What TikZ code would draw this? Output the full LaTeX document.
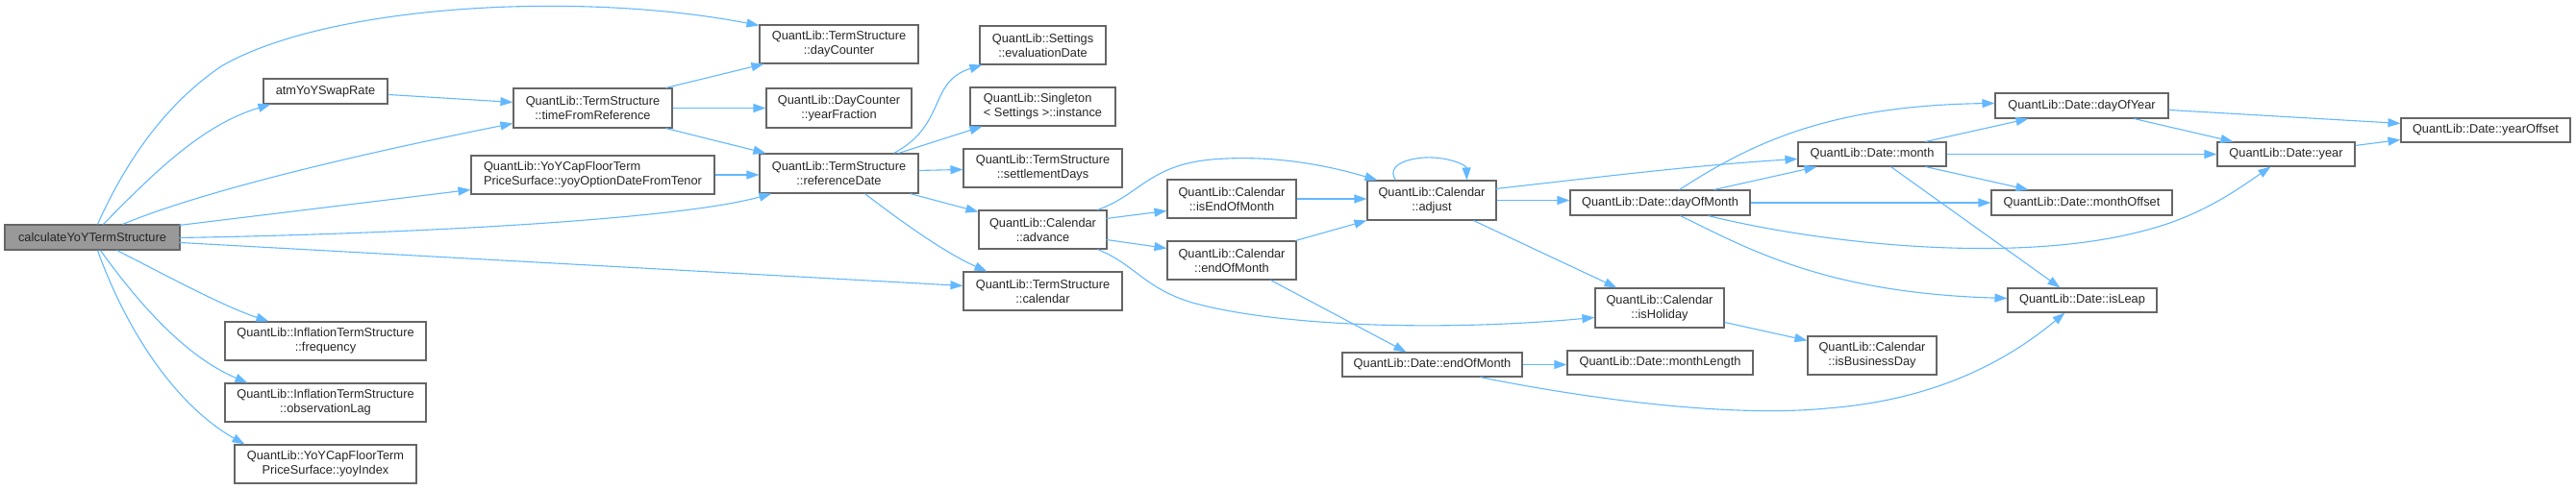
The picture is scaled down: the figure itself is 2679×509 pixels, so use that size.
\documentclass[tikz,border=0pt]{standalone}
\usepackage{fontspec}
\setmainfont{Liberation Sans}
\usetikzlibrary{arrows.meta,calc}
\definecolor{edgeblue}{HTML}{63B8FF}
\definecolor{boxgray}{HTML}{666666}
\definecolor{rootgray}{HTML}{999999}
\begin{document}
\begin{tikzpicture}[x=1pt,y=-1pt,
  box/.style={draw=boxgray, line width=1.1pt, fill=white, inner sep=0pt, align=center,
    font=\fontsize{12.8}{15}\selectfont, text=black!85},
  lbox/.style={box, align=left},
  e/.style={draw=edgeblue, line width=1.1pt, -{Triangle[length=13pt,width=9pt]}}]
\useasboundingbox (0,0) rectangle (2679,509);
% nodes
\node[box, fill=rootgray, minimum width=182pt, minimum height=26pt] (cyts) at (96,247) {calculateYoYTermStructure};
\node[box, minimum width=129pt, minimum height=26pt] (atm) at (338.5,95) {atmYoYSwapRate};
\node[box, minimum width=209pt, minimum height=40pt] (freq) at (338.5,355) {QuantLib::InflationTermStructure\\::frequency};
\node[box, minimum width=209pt, minimum height=40pt] (obs) at (338.5,419) {QuantLib::InflationTermStructure\\::observationLag};
\node[box, minimum width=189pt, minimum height=40pt] (yoyidx) at (338.5,483) {QuantLib::YoYCapFloorTerm\\PriceSurface::yoyIndex};
\node[box, minimum width=165pt, minimum height=41pt] (tfr) at (616.5,112.5) {QuantLib::TermStructure\\::timeFromReference};
\node[lbox, minimum width=253pt, minimum height=40pt] (yodft) at (616.5,182) {QuantLib::YoYCapFloorTerm\\PriceSurface::yoyOptionDateFromTenor};
\node[box, minimum width=165pt, minimum height=40pt] (dc) at (872.5,46) {QuantLib::TermStructure\\::dayCounter};
\node[box, minimum width=151pt, minimum height=41pt] (yf) at (872.5,112.5) {QuantLib::DayCounter\\::yearFraction};
\node[box, minimum width=165pt, minimum height=41pt] (rd) at (872.5,180.5) {QuantLib::TermStructure\\::referenceDate};
\node[box, minimum width=131pt, minimum height=40pt] (evd) at (1084.5,47) {QuantLib::Settings\\::evaluationDate};
\node[lbox, minimum width=151pt, minimum height=40pt] (inst) at (1084.5,111) {QuantLib::Singleton\\< Settings >::instance};
\node[box, minimum width=165pt, minimum height=40pt] (sd) at (1084.5,175) {QuantLib::TermStructure\\::settlementDays};
\node[box, minimum width=133pt, minimum height=40pt] (adv) at (1084.5,239) {QuantLib::Calendar\\::advance};
\node[box, minimum width=165pt, minimum height=40pt] (tscal) at (1084.5,303) {QuantLib::TermStructure\\::calendar};
\node[box, minimum width=134pt, minimum height=40pt] (ieom) at (1281,207) {QuantLib::Calendar\\::isEndOfMonth};
\node[box, minimum width=134pt, minimum height=40pt] (ceom) at (1281,271) {QuantLib::Calendar\\::endOfMonth};
\node[box, minimum width=134pt, minimum height=41pt] (adj) at (1489,208.5) {QuantLib::Calendar\\::adjust};
\node[box, minimum width=187pt, minimum height=26pt] (dom) at (1726.5,211) {QuantLib::Date::dayOfMonth};
\node[box, minimum width=134pt, minimum height=41pt] (hol) at (1726,320.5) {QuantLib::Calendar\\::isHoliday};
\node[box, minimum width=187pt, minimum height=25pt] (deom) at (1489.5,379.5) {QuantLib::Date::endOfMonth};
\node[box, minimum width=193pt, minimum height=25pt] (ml) at (1726.5,377.5) {QuantLib::Date::monthLength};
\node[box, minimum width=154pt, minimum height=25pt] (mon) at (1947,160.5) {QuantLib::Date::month};
\node[box, minimum width=180pt, minimum height=26pt] (doy) at (2165,110) {QuantLib::Date::dayOfYear};
\node[box, minimum width=188pt, minimum height=26pt] (mo) at (2165,211) {QuantLib::Date::monthOffset};
\node[box, minimum width=155pt, minimum height=25pt] (leap) at (2165.5,312.5) {QuantLib::Date::isLeap};
\node[box, minimum width=134pt, minimum height=40pt] (bd) at (1947,370) {QuantLib::Calendar\\::isBusinessDay};
\node[box, minimum width=143pt, minimum height=25pt] (yr) at (2377.5,160.5) {QuantLib::Date::year};
\node[box, minimum width=176pt, minimum height=25pt] (yo) at (2585,135.5) {QuantLib::Date::yearOffset};
% edges from calculateYoYTermStructure
\draw[e] ($(cyts.north west)+(97,0)$) .. controls (130,170) and (170,110) .. (230,69) .. controls (340,5) and (600,-10) .. ($(dc.north west)+(0,1)$);
\draw[e] ($(cyts.north west)+(103,0)$) .. controls (160,180) and (210,130) .. ($(atm.south west)+(8,0)$);
\draw[e] ($(cyts.north west)+(123,0)$) .. controls (220,195) and (400,155) .. ($(tfr.north west)+(0,37)$);
\draw[e] ($(cyts.north west)+(182,1)$) -- ($(yodft.north west)+(0,36)$);
\draw[e] ($(cyts.north west)+(182,14)$) .. controls (400,244) and (700,230) .. ($(rd.south west)+(13,0)$);
\draw[e] ($(cyts.north west)+(182,19)$) -- ($(tscal.north west)+(0,15)$);
\draw[e] ($(cyts.south west)+(117,0)$) .. controls (170,285) and (230,318) .. ($(freq.north west)+(46,0)$);
\draw[e] ($(cyts.south west)+(100,0)$) .. controls (140,310) and (190,370) .. ($(obs.north west)+(24,0)$);
\draw[e] ($(cyts.south west)+(97,0)$) .. controls (130,340) and (180,420) .. ($(yoyidx.north west)+(11,0)$);
% second level
\draw[e] ($(atm.north east)+(0,17)$) -- ($(tfr.north west)+(0,15)$);
\draw[e] ($(tfr.north west)+(159,0)$) -- ($(dc.south west)+(5,0)$);
\draw[e] (tfr.east) -- (tfr.east -| yf.west);
\draw[e] ($(tfr.south west)+(159,0)$) -- ($(rd.north west)+(7,0)$);
\draw[e] (yodft.east) -- (yodft.east -| rd.west);
% referenceDate
\draw[e] ($(rd.north west)+(140,0)$) .. controls (985,130) and (965,85) .. ($(evd.south west)+(3,0)$);
\draw[e] ($(rd.north west)+(145,0)$) -- ($(inst.south west)+(13,0)$);
\draw[e] ($(rd.north east)+(0,18)$) -- ($(sd.north west)+(0,22)$);
\draw[e] ($(rd.south west)+(157,0)$) -- ($(adv.north west)+(0,2)$);
\draw[e] ($(rd.south west)+(110,0)$) .. controls (930,225) and (980,262) .. ($(tscal.north west)+(25,0)$);
% advance
\draw[e] ($(adv.north west)+(124,0)$) .. controls (1185,203) and (1195,172) .. (1260,166) .. controls (1330,160) and (1390,175) .. ($(adj.north west)+(11,0)$);
\draw[e] ($(adv.north west)+(133,9)$) -- ($(ieom.north west)+(0,33)$);
\draw[e] ($(adv.north west)+(133,31)$) -- ($(ceom.north west)+(0,8)$);
\draw[e] ($(adv.south west)+(124,0)$) .. controls (1180,275) and (1190,300) .. (1240,315) .. controls (1330,340) and (1500,345) .. ($(hol.north west)+(0,31)$);
% calendar functions
\draw[e] (ieom.east) -- (ieom.east -| adj.west);
\draw[e] ($(ceom.north west)+(134,0)$) -- (adj.south west);
\draw[e] ($(ceom.south west)+(108,0)$) -- ($(deom.north west)+(67,0)$);
\draw[e] ($(adj.north west)+(30,0)$) .. controls (1440,170) and (1470,163) .. (1490,164) .. controls (1510,165) and (1525,172) .. ($(adj.north west)+(104,0)$);
\draw[e] (adj.east) -- (adj.east -| dom.west);
\draw[e] ($(adj.north west)+(134,9)$) .. controls (1650,186) and (1760,172) .. ($(mon.north west)+(0,18)$);
\draw[e] ($(adj.south west)+(111,0)$) -- ($(hol.north west)+(23,0)$);
% dayOfMonth
\draw[e] ($(dom.north west)+(150,0)$) -- ($(mon.south west)+(20,0)$);
\draw[e] ($(dom.north west)+(114,0)$) .. controls (1820,150) and (1900,110) .. ($(doy.north west)+(0,11)$);
\draw[e] (dom.east) -- (dom.east -| mo.west);
\draw[e] ($(dom.south west)+(144,0)$) .. controls (1900,255) and (2100,275) .. (2230,240) .. controls (2290,225) and (2330,195) .. ($(yr.south west)+(56,0)$);
\draw[e] ($(dom.south west)+(115,0)$) .. controls (1820,260) and (1900,305) .. ($(leap.north west)+(0,11)$);
% month
\draw[e] ($(mon.north west)+(133,0)$) -- ($(doy.south west)+(35,0)$);
\draw[e] (mon.east) -- (mon.east -| yr.west);
\draw[e] ($(mon.south west)+(133,0)$) -- ($(mo.north west)+(39,0)$);
\draw[e] ($(mon.south west)+(97,0)$) -- ($(leap.north west)+(55,0)$);
% dayOfYear / year
\draw[e] ($(doy.north east)+(0,18)$) -- ($(yo.north west)+(0,6)$);
\draw[e] ($(doy.south west)+(145,0)$) -- ($(yr.north west)+(17,0)$);
\draw[e] ($(yr.north east)+(0,4)$) -- ($(yo.north west)+(0,23)$);
% others
\draw[e] ($(hol.north east)+(0,36)$) -- ($(bd.north west)+(0,5)$);
\draw[e] (deom.east) -- (deom.east -| ml.west);
\draw[e] ($(deom.south west)+(144,0)$) .. controls (1650,415) and (1800,435) .. (1900,425) .. controls (1990,418) and (2070,390) .. ($(leap.south west)+(60,0)$);
\end{tikzpicture}
\end{document}
